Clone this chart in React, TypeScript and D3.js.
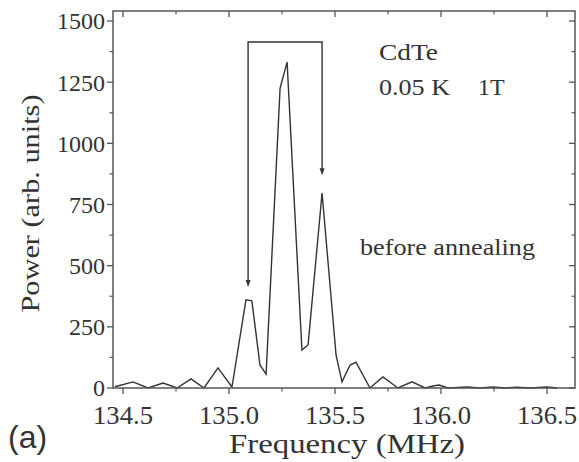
import React from "react";
import * as d3 from "d3";

const freq = [134.462, 134.547, 134.618, 134.689, 134.755, 134.821, 134.882, 134.948, 135.014, 135.080, 135.108, 135.146, 135.175, 135.241, 135.274, 135.344, 135.373, 135.439, 135.505, 135.533, 135.571, 135.599, 135.665, 135.726, 135.797, 135.863, 135.925, 135.962, 135.991, 136.033, 136.123, 136.184, 136.245, 136.302, 136.358, 136.420, 136.500, 136.547];
const power = [5, 25, 0, 20, 0, 37, 0, 82, 4, 360, 356, 94, 57, 1226, 1332, 155, 176, 797, 135, 25, 94, 106, 0, 45, 0, 25, 0, 8, 12, 0, 4, 0, 4, 0, 3, 0, 4, 0];
const xTicks = [134.5, 135.0, 135.5, 136.0, 136.5];
const xMinor = [134.75, 135.25, 135.75, 136.25];
const yTicks = [0, 250, 500, 750, 1000, 1250, 1500];
const yMinor = [125, 375, 625, 875, 1125, 1375];
const bracket = { left: 135.09, right: 135.439, top: 1414, leftTip: 413, rightTip: 870 };

const W = 579, H = 462;
const L = 113, R = 575, T = 11, B = 388;

export default function App() {
  const x = d3.scaleLinear().domain([134.5, 136.5]).range([123, 547]);
  const y = d3.scaleLinear().domain([0, 1500]).range([B, 21]);
  const pts: [number, number][] = freq.map((f, i) => [f, power[i]]);
  const line = d3.line<[number, number]>().x(d => x(d[0])).y(d => y(d[1]));
  const col = "#333";
  const font = "'Liberation Serif', 'Times New Roman', serif";
  const bx1 = x(bracket.left), bx2 = x(bracket.right), by = y(bracket.top);
  const lt = y(bracket.leftTip), rt = y(bracket.rightTip);
  const ah = (cx: number, tip: number) => `M${cx - 2.5},${tip - 7} L${cx + 2.5},${tip - 7} L${cx},${tip} Z`;
  const sg = "spacingAndGlyphs";
  return (
    <svg width={W} height={H} style={{ position: "absolute", left: 0, top: 0, background: "#fff" }}>
      <rect x={0} y={0} width={W} height={H} fill="#fff" />
      <path d={line(pts) || ""} fill="none" stroke={col} strokeWidth={1.4} strokeLinejoin="miter" />
      <rect x={L} y={T} width={R - L} height={B - T} fill="none" stroke="#555" strokeWidth={1.5} />
      {xTicks.map(t => (
        <g key={"xt" + t}>
          <line x1={x(t)} x2={x(t)} y1={B} y2={B + 6} stroke="#555" strokeWidth={1.3} />
          <line x1={x(t)} x2={x(t)} y1={T} y2={T + 6} stroke="#555" strokeWidth={1.3} />
          <text x={x(t)} y={424} textAnchor="middle" fontFamily={font} fontSize={26} textLength={60} lengthAdjust={sg} fill={col}>{t.toFixed(1)}</text>
        </g>
      ))}
      {xMinor.map(t => (
        <g key={"xm" + t}>
          <line x1={x(t)} x2={x(t)} y1={B} y2={B + 3.5} stroke="#555" strokeWidth={1.2} />
          <line x1={x(t)} x2={x(t)} y1={T} y2={T + 3.5} stroke="#555" strokeWidth={1.2} />
        </g>
      ))}
      {yTicks.map(t => (
        <g key={"yt" + t}>
          <line x1={L - 6} x2={L} y1={y(t)} y2={y(t)} stroke="#555" strokeWidth={1.3} />
          <line x1={R - 6} x2={R} y1={y(t)} y2={y(t)} stroke="#555" strokeWidth={1.3} />
          <text x={L - 8} y={y(t)} dy="0.35em" textAnchor="end" fontFamily={font} fontSize={24} fill={col}>{t}</text>
        </g>
      ))}
      {yMinor.map(t => (
        <g key={"ym" + t}>
          <line x1={L - 3.5} x2={L} y1={y(t)} y2={y(t)} stroke="#555" strokeWidth={1.2} />
          <line x1={R - 3.5} x2={R} y1={y(t)} y2={y(t)} stroke="#555" strokeWidth={1.2} />
        </g>
      ))}
      <path d={`M${bx1},${lt - 6} L${bx1},${by} L${bx2},${by} L${bx2},${rt - 6}`} fill="none" stroke={col} strokeWidth={1.4} />
      <path d={ah(bx1, lt)} fill={col} />
      <path d={ah(bx2, rt)} fill={col} />
      <text x={379} y={60} fontFamily={font} fontSize={24} textLength={59} lengthAdjust={sg} fill={col}>CdTe</text>
      <text x={379} y={95} fontFamily={font} fontSize={24} textLength={71} lengthAdjust={sg} fill={col}>0.05 K</text>
      <text x={478} y={95} fontFamily={font} fontSize={24} fill={col}>1T</text>
      <text x={360} y={255} fontFamily={font} fontSize={24} textLength={175} lengthAdjust={sg} fill={col}>before annealing</text>
      <text x={347} y={453} textAnchor="middle" fontFamily={font} fontSize={27} textLength={236} lengthAdjust={sg} fill={col}>Frequency (MHz)</text>
      <text transform={`translate(39,${(T + B) / 2 + 4}) rotate(-90)`} textAnchor="middle" fontFamily={font} fontSize={25} textLength={218} lengthAdjust={sg} fill={col}>Power (arb. units)</text>
      <text x={8} y={448} fontFamily="'Liberation Sans', Arial, sans-serif" fontSize={32} fill={col}>(a)</text>
    </svg>
  );
}
